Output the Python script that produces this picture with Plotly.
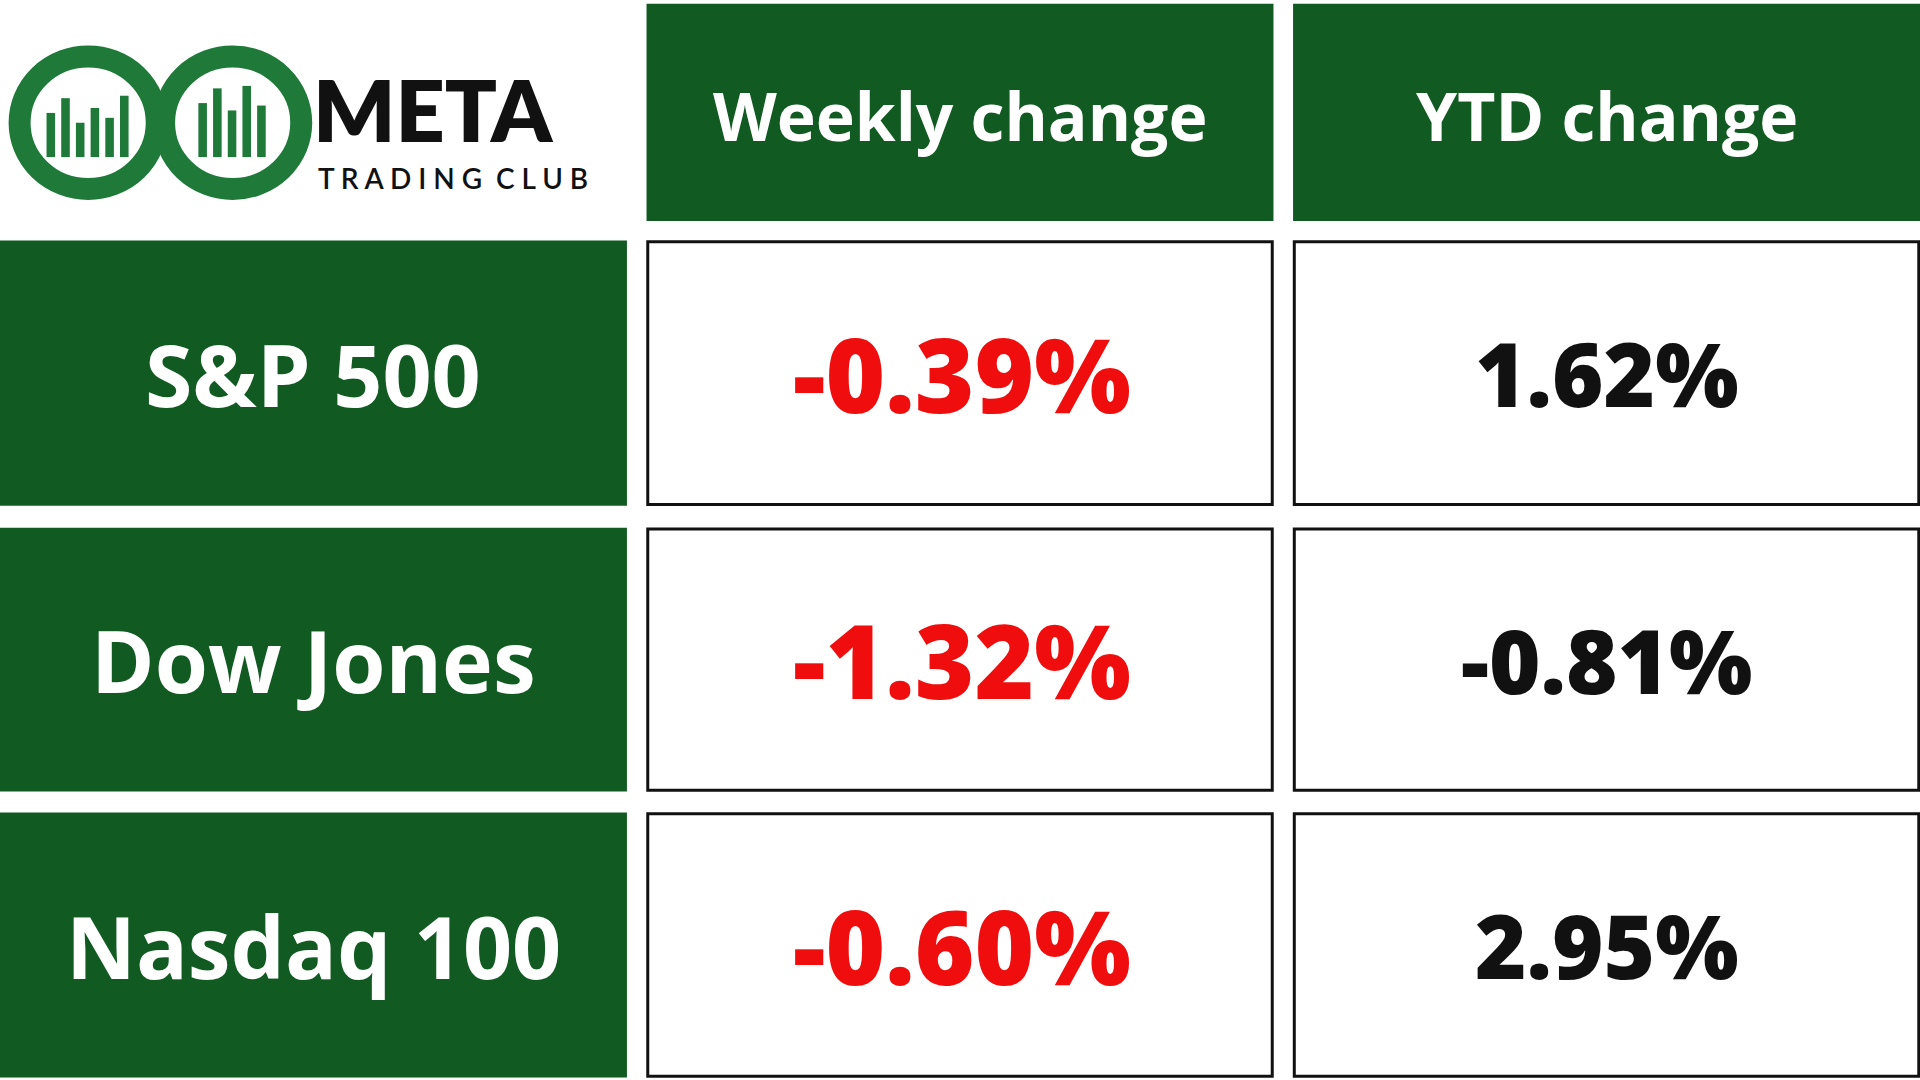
import plotly.graph_objects as go

indices = ["S&P 500", "Dow Jones", "Nasdaq 100"]
headers = ["Weekly change", "YTD change"]
weekly = ["-0.39%", "-1.32%", "-0.60%"]
ytd = ["1.62%", "-0.81%", "2.95%"]

GREEN = "#115a22"
W, H = 1568, 880
col_x = [(0, 512), (528, 1040), (1056, 1568)]
row_y = [(3, 180), (196, 412), (430, 645), (662, 878)]
FONT = "Open Sans"

fig = go.Figure()
shapes, ann = [], []

def cell(x0, x1, y0, y1, fill, line=None):
    shapes.append(dict(type="rect", xref="x", yref="y", x0=x0, x1=x1, y0=y0, y1=y1,
                       fillcolor=fill, line=dict(color=line or fill, width=3 if line else 0), layer="below"))

def text(x, y, s, size, color, family=FONT, weight=700):
    ann.append(dict(x=x, y=y, xref="x", yref="y", text=s, showarrow=False,
                    font=dict(size=size, color=color, family=family, weight=weight),
                    xanchor="center", yanchor="middle"))

for j, h in enumerate(headers):
    x0, x1 = col_x[j + 1]
    cell(x0, x1, *row_y[0], GREEN)
    text((x0 + x1) / 2, (row_y[0][0] + row_y[0][1]) / 2 + 2, h, 66, "white")

for i, name in enumerate(indices):
    y0, y1 = row_y[i + 1]
    cy = (y0 + y1) / 2
    cell(*col_x[0], y0, y1, GREEN)
    text(256, cy, name, 86, "white")
    cell(col_x[1][0] + 1, col_x[1][1] - 1, y0 + 1, y1 - 1, "white", "#111")
    text(sum(col_x[1]) / 2 + 2, cy, weekly[i], 102, "#f00d0d", weight=800)
    cell(col_x[2][0] + 1, col_x[2][1] - 1, y0 + 1, y1 - 1, "white", "#111")
    text(sum(col_x[2]) / 2, cy, ytd[i], 88, "#111", weight=800)

# logo
LG = "#1f7a3a"
for cx in (72, 190):
    shapes.append(dict(type="circle", xref="x", yref="y", x0=cx - 56, x1=cx + 56, y0=100 - 54, y1=100 + 54,
                       line=dict(color=LG, width=22), fillcolor="rgba(0,0,0,0)"))
for bx, top in [(38, 92), (50, 80), (62, 100), (74, 88), (86, 96), (98, 78),
                (162, 84), (174, 72), (186, 90), (198, 70), (210, 86)]:
    shapes.append(dict(type="rect", xref="x", yref="y", x0=bx, x1=bx + 7, y0=top, y1=128,
                       fillcolor=LG, line=dict(width=0)))
ann.append(dict(x=254, y=88, xref="x", yref="y", text="META", showarrow=False, xanchor="left", yanchor="middle",
                font=dict(size=86, color="#111", family="Lato", weight=800)))
ann.append(dict(x=258, y=145, xref="x", yref="y", text="T R A D I N G  C L U B", showarrow=False,
                xanchor="left", yanchor="middle",
                font=dict(size=28, color="#111", family="Lato", weight=600)))

fig.update_layout(width=1920, height=1080, margin=dict(l=0, r=0, t=0, b=0),
                  paper_bgcolor="white", plot_bgcolor="white", shapes=shapes, annotations=ann,
                  xaxis=dict(range=[0, W], visible=False, fixedrange=True),
                  yaxis=dict(range=[H, 0], visible=False, fixedrange=True), showlegend=False)
fig.write_html("out.html", config={"displayModeBar": False})
with open("out.html", encoding="utf-8") as f:
    html = f.read()
html = html.replace("<body>", '<body style="margin:0">', 1)
with open("out.html", "w", encoding="utf-8") as f:
    f.write(html)
